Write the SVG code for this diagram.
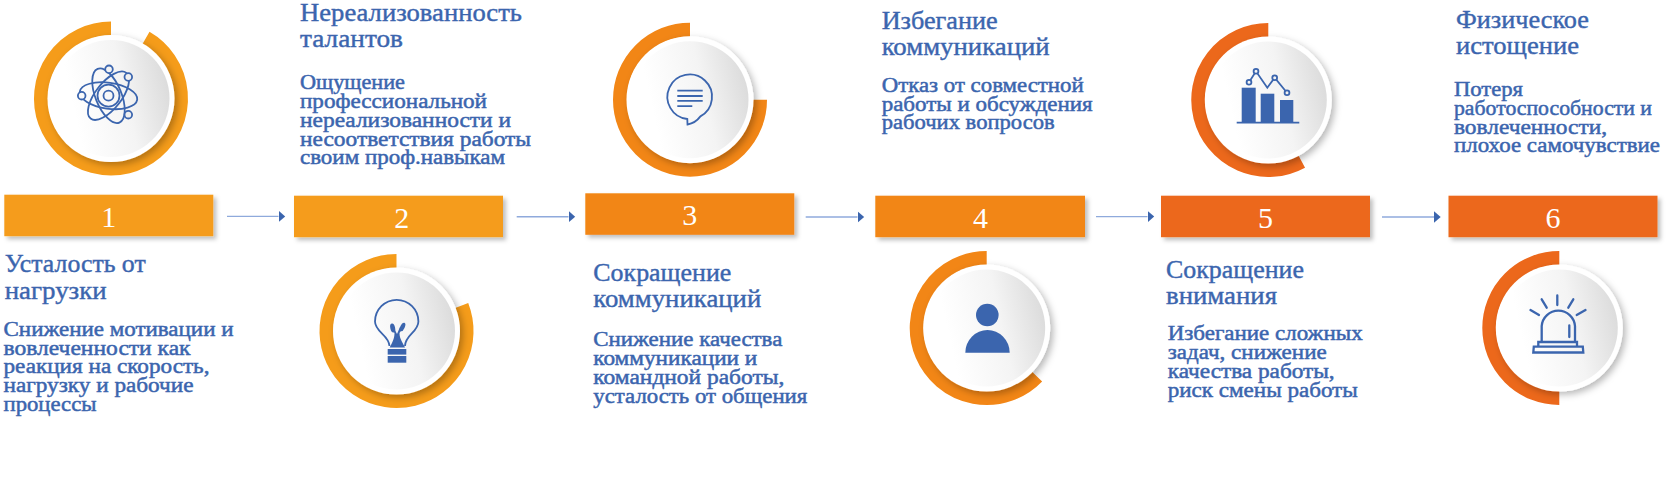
<svg xmlns="http://www.w3.org/2000/svg" width="1680" height="485" viewBox="0 0 1680 485">
<style>
text{font-family:"Liberation Serif","Noto Serif","DejaVu Serif",serif;fill:#3b65ae;stroke:#3b65ae;stroke-width:.4}
.t{font-size:24.5px}
.b{font-size:21.3px;stroke-width:.5}
.n{font-size:30px;fill:#fff;stroke:none;text-anchor:middle}
.ring{fill:none;stroke-width:14}
.o1{stroke:#f59c1a}.o2{stroke:#f28616}.o3{stroke:#ec681b}
.f1{fill:#f59c1a}.f2{fill:#f28616}.f3{fill:#ec681b}
.ol{fill:none;stroke:#3b65ae;stroke-width:1.8}
.ol2{fill:none;stroke:#3b65ae;stroke-width:2.3;stroke-linecap:round}
.s{fill:#3b65ae}
.w{fill:#fff;filter:url(#ds)}
.g{fill:url(#gr)}
.bar{filter:url(#bs)}
.c{fill:none;stroke:#8faadc;stroke-width:1.4;marker-end:url(#ah)}
</style>
<defs>
<linearGradient id="gr" x1="0.1" y1="0.65" x2="1" y2="0.45"><stop offset="0.1" stop-color="#ffffff"/><stop offset="0.6" stop-color="#f4f4f4"/><stop offset="1" stop-color="#dcdcdc"/></linearGradient>
<filter id="ds" x="-20%" y="-20%" width="140%" height="140%"><feDropShadow dx="3" dy="3" stdDeviation="3.5" flood-color="#000" flood-opacity=".28"/></filter>
<filter id="bs" x="-5%" y="-20%" width="110%" height="150%"><feDropShadow dx="3" dy="3" stdDeviation="2" flood-color="#000" flood-opacity=".25"/></filter>
<marker id="ah" markerUnits="userSpaceOnUse" markerWidth="8" markerHeight="12" refX="0" refY="6" orient="auto"><path d="M0 .2L6.7 6L0 11.8Z" fill="#3b65ae"/></marker>
</defs>
<g id="connectors">
<path class="c" d="M227 216.4H278.5"/>
<path class="c" d="M516.7 216.7H568.5"/>
<path class="c" d="M805.7 217H857.5"/>
<path class="c" d="M1096 216.6H1147.5"/>
<path class="c" d="M1382 217H1434"/>
</g>
<g id="node-1">
<path class="ring o1" d="M146 37.9A70 70 0 1 1 111 28.5"/>
<circle class="w" cx="111" cy="98.5" r="63.5"/><circle class="g" cx="111" cy="98.5" r="58.5"/>
<g class="ol"><circle cx="108.5" cy="95.7" r="5"/><circle cx="108.5" cy="95.7" r="11"/>
<ellipse cx="108.5" cy="95.7" rx="29" ry="13" transform="rotate(8 108.5 95.7)"/>
<ellipse cx="108.5" cy="95.7" rx="29" ry="13" transform="rotate(68 108.5 95.7)"/>
<ellipse cx="108.5" cy="95.7" rx="29" ry="13" transform="rotate(128 108.5 95.7)"/>
<circle cx="109" cy="69.3" r="3.8" fill="#f4f4f4"/><circle cx="128.3" cy="77" r="3.8" fill="#f0f0f0"/><circle cx="81.7" cy="95.7" r="3.8" fill="#fafafa"/><circle cx="128.3" cy="114.7" r="3.8" fill="#eee"/></g>
<rect class="bar f1" x="4.3" y="194.7" width="209" height="41.5"/>
<text class="n" x="108.8" y="226.7">1</text>
<text class="t" x="4.7" y="272" textLength="141" lengthAdjust="spacingAndGlyphs">Усталость от</text>
<text class="t" x="4.7" y="299" textLength="102" lengthAdjust="spacingAndGlyphs">нагрузки</text>
<text class="b" x="3.5" y="336" textLength="230" lengthAdjust="spacingAndGlyphs">Снижение мотивации и</text>
<text class="b" x="3.5" y="354.7" textLength="187" lengthAdjust="spacingAndGlyphs">вовлеченности как</text>
<text class="b" x="3.5" y="373.3" textLength="206" lengthAdjust="spacingAndGlyphs">реакция на скорость,</text>
<text class="b" x="3.5" y="392.3" textLength="190" lengthAdjust="spacingAndGlyphs">нагрузку и рабочие</text>
<text class="b" x="3.5" y="411" textLength="93" lengthAdjust="spacingAndGlyphs">процессы</text>
</g>
<g id="node-2">
<path class="ring o1" d="M461.7 305.5A70 70 0 1 1 396.5 261"/>
<circle class="w" cx="396.5" cy="331" r="63.5"/><circle class="g" cx="396.5" cy="331" r="58.5"/>
<path class="ol" d="M389.5 346C389 335 375 332 375 321.5A21.7 21.7 0 1 1 418.4 321.5C418.4 332 405 335 405 346"/>
<path class="s" d="M389.7 347.5C392 343 394.5 339 394.5 333L391 328L393.5 327L397 334L400 327L403 328L399.5 333C399.5 339 403 343 405 347.5Z"/>
<ellipse class="s" cx="392.7" cy="328" rx="2.4" ry="4.6" transform="rotate(-12 392.7 328)"/>
<ellipse class="s" cx="402.5" cy="327" rx="2.2" ry="4.6" transform="rotate(25 402.5 327)"/>
<rect class="s" x="387.7" y="349" width="18.6" height="5.6"/><rect class="s" x="387.7" y="356" width="18.6" height="6.7"/>
<rect class="bar f1" x="294" y="195.7" width="209" height="41.5"/>
<text class="n" x="401.7" y="227.7">2</text>
<text class="t" x="300" y="21" textLength="222" lengthAdjust="spacingAndGlyphs">Нереализованность</text>
<text class="t" x="300" y="47" textLength="103" lengthAdjust="spacingAndGlyphs">талантов</text>
<text class="b" x="300" y="89" textLength="105" lengthAdjust="spacingAndGlyphs">Ощущение</text>
<text class="b" x="300" y="108" textLength="187" lengthAdjust="spacingAndGlyphs">профессиональной</text>
<text class="b" x="300" y="126.7" textLength="211" lengthAdjust="spacingAndGlyphs">нереализованности и</text>
<text class="b" x="300" y="145.7" textLength="231" lengthAdjust="spacingAndGlyphs">несоответствия работы</text>
<text class="b" x="300" y="164" textLength="205" lengthAdjust="spacingAndGlyphs">своим проф.навыкам</text>
</g>
<g id="node-3">
<path class="ring o2" d="M760 99.7A70 70 0 1 1 690 29.7"/>
<circle class="w" cx="690" cy="99.7" r="63.5"/><circle class="g" cx="690" cy="99.7" r="58.5"/>
<path class="ol" d="M687.3 119L687.5 124.5C693 123.5 697 121 700.4 116.4A22.3 22.3 0 1 0 687.3 119Z"/>
<path class="ol" d="M677.3 90.7H702.7M677.3 96H702.7M677.3 100.9H702.7M677.3 106.2H692.3"/>
<rect class="bar f2" x="585.3" y="193.3" width="209" height="41.5"/>
<text class="n" x="689.8" y="225.3">3</text>
<text class="t" x="593.3" y="280.7" textLength="138" lengthAdjust="spacingAndGlyphs">Сокращение</text>
<text class="t" x="593.3" y="306.7" textLength="168" lengthAdjust="spacingAndGlyphs">коммуникаций</text>
<text class="b" x="593.3" y="346" textLength="189" lengthAdjust="spacingAndGlyphs">Снижение качества</text>
<text class="b" x="593.3" y="365" textLength="164" lengthAdjust="spacingAndGlyphs">коммуникации и</text>
<text class="b" x="593.3" y="384.3" textLength="191" lengthAdjust="spacingAndGlyphs">командной работы,</text>
<text class="b" x="593.3" y="402.7" textLength="214" lengthAdjust="spacingAndGlyphs">усталость от общения</text>
</g>
<g id="node-4">
<path class="ring o2" d="M1037.1 376.6A70 70 0 1 1 986.7 258"/>
<circle class="w" cx="986.7" cy="328" r="63.5"/><circle class="g" cx="986.7" cy="328" r="58.5"/>
<circle class="s" cx="987.3" cy="315" r="11.3"/>
<path class="s" d="M965.3 352.7A22.2 22.7 0 0 1 1009.7 352.7Z"/>
<rect class="bar f2" x="875.3" y="195.7" width="209.7" height="41.5"/>
<text class="n" x="980.5" y="227.7">4</text>
<text class="t" x="881.7" y="29.3" textLength="116" lengthAdjust="spacingAndGlyphs">Избегание</text>
<text class="t" x="881.7" y="55" textLength="168" lengthAdjust="spacingAndGlyphs">коммуникаций</text>
<text class="b" x="881.7" y="91.7" textLength="202" lengthAdjust="spacingAndGlyphs">Отказ от совместной</text>
<text class="b" x="881.7" y="110.7" textLength="211" lengthAdjust="spacingAndGlyphs">работы и обсуждения</text>
<text class="b" x="881.7" y="129.3" textLength="173" lengthAdjust="spacingAndGlyphs">рабочих вопросов</text>
</g>
<g id="node-5">
<path class="ring o3" d="M1301.7 161.5A70 70 0 1 1 1268.3 30"/>
<circle class="w" cx="1268.3" cy="100" r="63.5"/><circle class="g" cx="1268.3" cy="100" r="58.5"/>
<rect class="s" x="1241.7" y="87.7" width="14" height="34.6"/><rect class="s" x="1260.7" y="93.7" width="13.6" height="28.6"/><rect class="s" x="1280" y="100" width="13.3" height="22.3"/>
<path class="ol" d="M1236.7 122.6H1299.3M1249 82.3L1256 71.3L1267.3 87.7L1274.7 77.7L1287 92.7"/>
<g class="ol"><circle cx="1249" cy="82.3" r="2.4" fill="#f6f6f6"/><circle cx="1256" cy="71.3" r="2.4" fill="#f6f6f6"/><circle cx="1274.7" cy="77.7" r="2.4" fill="#f3f3f3"/><circle cx="1287" cy="92.7" r="2.4" fill="#f0f0f0"/></g>
<rect class="bar f3" x="1161" y="195.7" width="209" height="41.5"/>
<text class="n" x="1265.5" y="227.7">5</text>
<text class="t" x="1166" y="278" textLength="138" lengthAdjust="spacingAndGlyphs">Сокращение</text>
<text class="t" x="1166" y="303.7" textLength="111" lengthAdjust="spacingAndGlyphs">внимания</text>
<text class="b" x="1167.7" y="340" textLength="195" lengthAdjust="spacingAndGlyphs">Избегание сложных</text>
<text class="b" x="1167.7" y="358.7" textLength="159" lengthAdjust="spacingAndGlyphs">задач, снижение</text>
<text class="b" x="1167.7" y="377.7" textLength="167" lengthAdjust="spacingAndGlyphs">качества работы,</text>
<text class="b" x="1167.7" y="396.7" textLength="190" lengthAdjust="spacingAndGlyphs">риск смены работы</text>
</g>
<g id="node-6">
<path class="ring o3" d="M1559.3 398A70 70 0 0 1 1559.3 258"/>
<circle class="w" cx="1559.3" cy="328" r="63.5"/><circle class="g" cx="1559.3" cy="328" r="58.5"/>
<path class="ol2" d="M1541.7 341.7V326A16.7 16.7 0 0 1 1575 326V341.7M1538.3 346.7V342H1577V346.7M1533.8 346.7H1582.8L1583.3 352.5H1533.3ZM1569.3 325.5V337M1557.3 295.5V305M1541.7 299.3L1546.7 307.7M1573.3 299.3L1568.3 307.7M1530.5 310L1539 315M1585.5 310L1576.7 315"/>
<rect class="bar f3" x="1448.5" y="195.7" width="209" height="41.5"/>
<text class="n" x="1553" y="227.7">6</text>
<text class="t" x="1456" y="28" textLength="133" lengthAdjust="spacingAndGlyphs">Физическое</text>
<text class="t" x="1456" y="54" textLength="123" lengthAdjust="spacingAndGlyphs">истощение</text>
<text class="b" x="1454" y="96" textLength="69" lengthAdjust="spacingAndGlyphs">Потеря</text>
<text class="b" x="1454" y="115" textLength="198" lengthAdjust="spacingAndGlyphs">работоспособности и</text>
<text class="b" x="1454" y="133.7" textLength="153" lengthAdjust="spacingAndGlyphs">вовлеченности,</text>
<text class="b" x="1454" y="152" textLength="206" lengthAdjust="spacingAndGlyphs">плохое самочувствие</text>
</g>
</svg>
